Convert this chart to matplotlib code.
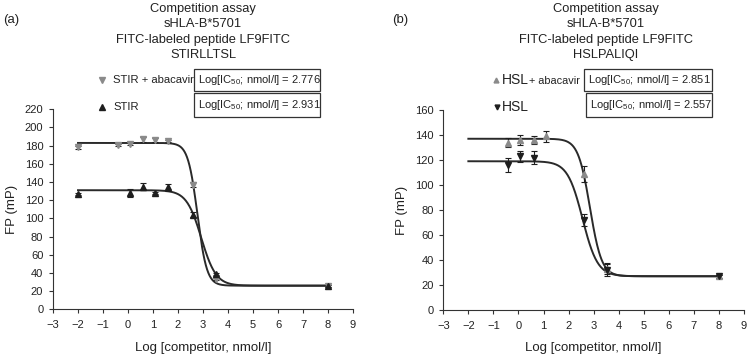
import numpy as np
import matplotlib.pyplot as plt
from matplotlib.patches import Rectangle

plt.rcParams['font.family'] = ['Liberation Sans', 'DejaVu Sans']
plt.rcParams['mathtext.fontset'] = 'custom'
plt.rcParams['mathtext.rm'] = 'Liberation Sans'
plt.rcParams['mathtext.it'] = 'Liberation Sans'
plt.rcParams['mathtext.bf'] = 'Liberation Sans'

# panel (a): STIRLLTSL
a_abc_x = [-2, -0.4, 0.09, 0.61, 1.08, 1.61, 2.61, 3.52, 8]
a_abc_y = [178, 181, 182, 187, 186, 185, 137, 33, 26]
a_abc_err = [2, 1, 1, 3, 2, 1.5, 3, 1, 1]
a_pep_x = [-2, 0.09, 0.61, 1.08, 1.61, 2.61, 3.52, 8]
a_pep_y = [127, 128, 135, 128, 134, 104, 39, 26]
a_pep_err = [1, 4, 4, 1, 4, 3, 1, 1]
# fitted curves: top, bottom, logIC50, hill slope
a_abc_fit = [183, 26, 2.776, 2.3]
a_pep_fit = [131, 26, 2.931, 1.47]

# panel (b): HSLPALIQI
b_abc_x = [-0.4, 0.08, 0.6, 1.1, 2.6, 3.52, 8]
b_abc_y = [134, 136, 136, 139, 109, 33, 27]
b_abc_err = [3.5, 4, 3, 4.5, 6.5, 4.5, 1]
b_pep_x = [-0.4, 0.08, 0.6, 2.6, 3.52, 8]
b_pep_y = [116, 123, 122, 72, 32, 27]
b_pep_err = [5.5, 4.5, 5, 5, 4.5, 1]
b_abc_fit = [137, 27, 2.851, 1.85]
b_pep_fit = [119, 27, 2.557, 1.45]

W, H = 750, 357
GRAY = '#8a8a8a'
DARK = '#1e1e1e'
TXT = '#222222'

fig = plt.figure(figsize=(7.5, 3.57), dpi=100)


def px_axes(l, t, r, b):
    return fig.add_axes([l / W, 1 - b / H, (r - l) / W, (b - t) / H])


def fx(x):
    return x / W


def fy(y):
    return 1 - y / H


def fourpl(x, p):
    top, bot, c, h = p
    return bot + (top - bot) / (1 + 10 ** ((x - c) * h))


xs = np.linspace(-2, 8, 400)


def setup(ax, ymax):
    for s in ['top', 'right']:
        ax.spines[s].set_visible(False)
    for s in ['left', 'bottom']:
        ax.spines[s].set_color('#333333')
        ax.spines[s].set_linewidth(0.8)
    ax.set_xlim(-3, 9)
    ax.set_ylim(0, ymax)
    ax.set_xticks(range(-3, 10))
    ax.set_yticks(range(0, ymax + 1, 20))
    ax.tick_params(direction='out', length=3, width=0.8, labelsize=8,
                   colors='#333333', labelcolor=TXT)
    ax.tick_params(axis='x', pad=5)
    ax.tick_params(axis='y', pad=4)
    ax.set_xlabel('Log [competitor, nmol/l]', fontsize=9.5, color=TXT, labelpad=8)
    ax.set_ylabel('FP (mP)', fontsize=9.5, color=TXT, labelpad=5)


def draw(ax, x, y, err, fit, marker, color):
    ax.plot(xs, fourpl(xs, fit), color='#2a2a2a', lw=1.4, zorder=2)
    ax.errorbar(x, y, yerr=err, fmt=marker, color=color, ms=4.5, mec=color,
                ecolor=DARK, elinewidth=0.8, capsize=2.2, capthick=0.8, zorder=3)


ax1 = px_axes(53, 109.3, 353, 309.3)
setup(ax1, 220)
draw(ax1, a_abc_x, a_abc_y, a_abc_err, a_abc_fit, 'v', GRAY)
draw(ax1, a_pep_x, a_pep_y, a_pep_err, a_pep_fit, '^', DARK)

ax2 = px_axes(443.3, 110, 744, 310)
setup(ax2, 160)
draw(ax2, b_abc_x, b_abc_y, b_abc_err, b_abc_fit, '^', GRAY)
draw(ax2, b_pep_x, b_pep_y, b_pep_err, b_pep_fit, 'v', DARK)

# titles
titles = [['Competition assay', 'sHLA-B*5701', 'FITC-labeled peptide LF9FITC', 'STIRLLTSL'],
          ['Competition assay', 'sHLA-B*5701', 'FITC-labeled peptide LF9FITC', 'HSLPALIQI']]
for cx, lines in zip([203, 606], titles):
    for i, s in enumerate(lines):
        fig.text(fx(cx), fy(9 + 15.3 * i), s, ha='center', va='center', fontsize=9.3, color=TXT)
fig.text(fx(3), fy(20), '(a)', ha='left', va='center', fontsize=9.5, color=TXT)
fig.text(fx(392), fy(20), '(b)', ha='left', va='center', fontsize=9.5, color=TXT)

# legends
fig.lines.append(plt.Line2D([fx(102)], [fy(80)], marker='v', color=GRAY, ms=4, transform=fig.transFigure))
fig.text(fx(113), fy(80), 'STIR + abacavir', va='center', fontsize=8.1, color=TXT)
fig.lines.append(plt.Line2D([fx(102)], [fy(107)], marker='^', color=DARK, ms=4, transform=fig.transFigure))
fig.text(fx(113), fy(107), 'STIR', va='center', fontsize=8.1, color=TXT)

fig.lines.append(plt.Line2D([fx(496)], [fy(80)], marker='^', color=GRAY, ms=3.5, transform=fig.transFigure))
fig.text(fx(502), fy(80), 'HSL', va='center', fontsize=10, color=TXT)
fig.text(fx(529), fy(81), '+ abacavir', va='center', fontsize=7.8, color=TXT)
fig.lines.append(plt.Line2D([fx(497)], [fy(107)], marker='v', color=DARK, ms=3.5, transform=fig.transFigure))
fig.text(fx(502), fy(107), 'HSL', va='center', fontsize=10, color=TXT)

boxes = [(194, 69, 320, 91, '2.776'), (194, 93, 320, 117, '2.931'),
         (584, 69, 712, 91, '2.851'), (586, 93, 712, 117, '2.557')]
for l, t, r, b, v in boxes:
    fig.patches.append(Rectangle((fx(l), fy(b)), (r - l) / W, (b - t) / H, fill=False,
                                 ec='#333333', lw=0.9, transform=fig.transFigure))
    fig.text(fx(l + 4), fy((t + b) / 2), r'Log[IC$_{50}$; nmol/l] = ' + v,
             va='center', fontsize=8, color=TXT)

fig.savefig('out.png', dpi=100)
